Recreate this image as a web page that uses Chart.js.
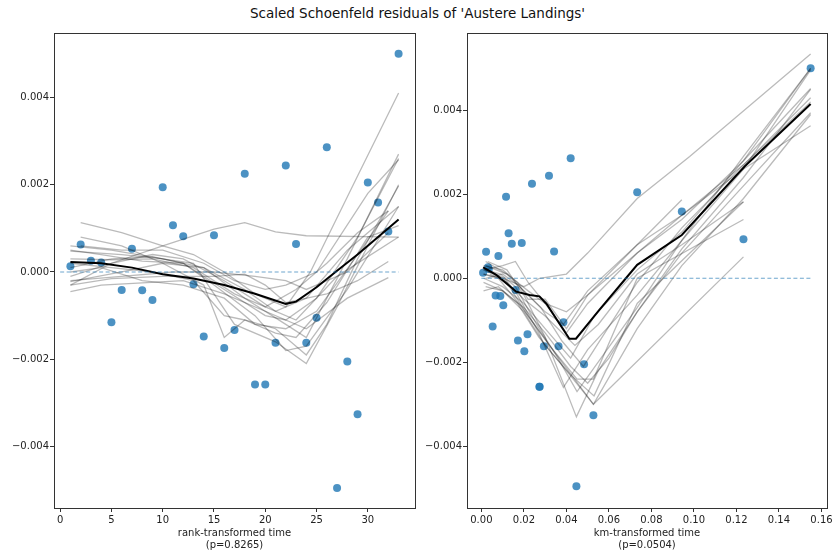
<!DOCTYPE html>
<html>
<head>
<meta charset="utf-8">
<script src="https://cdn.jsdelivr.net/npm/chart.js@4.4.0/dist/chart.umd.min.js"></script>
<style>
  body { margin: 0; background: #fff; }
  #wrap { position: relative; width: 835px; height: 552px; }
  #title { position: absolute; left: 0; top: 5px; width: 835px; text-align: center;
           font: 13.5px "DejaVu Sans", sans-serif; color: #111; }
  canvas { position: absolute; top: 0; }
</style>
</head>
<body>
<div id="wrap">
  <div id="title">Scaled Schoenfeld residuals of 'Austere Landings'</div>
  <canvas id="rankChart" width="420" height="552" style="left:0"></canvas>
  <canvas id="kmChart" width="415" height="552" style="left:420px"></canvas>
</div>
<script>
// scaled residuals, one per event, ordered by event time
const residuals = [
  0.00013, 0.00063, 0.00026, 0.00022, -0.00115, -0.00041, 0.00053, -0.00042, -0.00064, 0.00194,
  0.00107, 0.00082, -0.00028, -0.00148, 0.00084, -0.00174, -0.00133, 0.00225, -0.00258, -0.00258,
  -0.00162, 0.00244, 0.00064, -0.00162, -0.00105, 0.00286, -0.00495, -0.00205, -0.00326, 0.00205,
  0.00159, 0.00093, 0.0050
];
const rankTime = [
  1, 2, 3, 4, 5, 6, 7, 8, 9, 10, 11, 12, 13, 14, 15, 16, 17, 18, 19, 20,
  21, 22, 23, 24, 25, 26, 27, 28, 29, 30, 31, 32, 33
];
const kmTime = [
  0.0008, 0.0022, 0.0031, 0.0035, 0.0053, 0.0067, 0.0080, 0.0089, 0.0103, 0.0116,
  0.0128, 0.0143, 0.0161, 0.0172, 0.0190, 0.0202, 0.0217, 0.0238, 0.0273, 0.0274,
  0.0294, 0.0318, 0.0342, 0.0363, 0.0386, 0.0420, 0.0447, 0.0483, 0.0527, 0.0733,
  0.0943, 0.1233, 0.1549
];

// lowess fit of the full sample
const rankLowess = [
  [1, 0.00023], [4, 0.0002], [7, 0.0001], [10, -0.00005], [13, -0.00015], [16, -0.0003],
  [19, -0.0005], [22, -0.00073], [23, -0.00068], [25, -0.00035], [27, 0.00003],
  [29, 0.0004], [31, 0.0008], [33, 0.0012]
];
const kmLowess = [
  [0.0008, 0.00026], [0.007, 0.00008], [0.0164, -0.00032], [0.0227, -0.0004], [0.0273, -0.00043],
  [0.0305, -0.0006], [0.0414, -0.00144], [0.0445, -0.00144], [0.0555, -0.00075], [0.068, 0.0],
  [0.0733, 0.00032], [0.0943, 0.00103], [0.1238, 0.00266], [0.1549, 0.00415]
];

// lowess fits of bootstrap resamples
const rankBootLines = [
  [[1, -0.0003], [5, 0.0002], [10, 0.0006], [15, 0.00098], [18, 0.00113], [21, 0.00092], [24, 0.00083], [33, 0.0008]],
  [[2, 0.00113], [6, 0.0009], [10, 0.0006], [13, 0.0004], [16, 0.0], [19, -0.0005], [22, -0.0008], [24.4, 0.0], [29, 0.0022], [33, 0.0041]],
  [[1, 0.0006], [5, 0.0005], [10, 0.0003], [14, 0.0001], [18, -0.0006], [22, -0.0012], [24, -0.0015], [28, 0.0003], [33, 0.0027]],
  [[1, 0.0005], [4, 0.0004], [8, 0.00025], [12, 0.0002], [16, -0.0004], [20, -0.001], [22, -0.0011], [25, -0.0006], [29, 0.0008], [33, 0.0026]],
  [[1, 0.00048], [6, 0.0004], [10, 0.0003], [13, 0.0002], [15, -0.0005], [17, -0.0012], [21, -0.0016], [24, -0.0021], [27, -0.0008], [33, 0.002]],
  [[1, -0.0001], [5, 0.0002], [9, 0.0004], [12, 0.0003], [16, -0.0002], [20, -0.0008], [23, -0.0004], [26, 0.0002], [29, 0.0009], [32, 0.0014]],
  [[1, -0.00022], [6, 0.0], [10, 0.0002], [14, 0.0001], [18, -0.0004], [21, -0.0009], [24, -0.0006], [28, 0.0005], [33, 0.0015]],
  [[1, -0.0003], [5, -0.00015], [10, -0.0001], [15, -0.0001], [18, -0.00005], [20, -0.0003], [22, -0.0007], [26, -0.0005], [29, -0.0002], [32, 0.00024]],
  [[1, -0.00045], [4, -0.0003], [8, -0.00025], [12, -0.0002], [16, -0.0005], [20, -0.0009], [24, -0.0013], [28, -0.0006], [32, -0.00013]],
  [[1, 0.0002], [5, 0.0001], [9, 0.0], [13, -0.0002], [16, -0.001], [18, -0.0011], [21, -0.0013], [24, -0.0019], [26, -0.0012], [29, 0.0003], [33, 0.00197]],
  [[2, 0.0008], [6, 0.0006], [10, 0.0002], [14, -0.0003], [16, -0.0015], [18, -0.0011], [21, -0.0014], [23, -0.0015], [26, -0.0007], [30, 0.0008], [33, 0.00106]],
  [[1, 0.0003], [5, 0.00028], [9, 0.0003], [13, 0.0001], [17, -0.0005], [20, -0.0008], [23, -0.0011], [27, -0.0001], [33, 0.0008]],
  [[1, 0.0], [4, 0.0001], [8, -0.0002], [12, -0.0003], [16, -0.0006], [19, -0.0012], [22, -0.0013], [25, -0.0009], [29, 0.0004], [32, 0.0014]],
  [[2, 0.0006], [6, 0.0005], [10, 0.0005], [14, 0.0002], [17, -0.0002], [20, -0.0004], [22, -0.0003], [25, 0.0], [30, 0.0018], [33, 0.00257]],
  [[1, 0.0001], [5, 0.0003], [9, 0.00035], [12, 0.0002], [15, -0.0003], [19, -0.001], [22, -0.0018], [24, -0.0017], [28, -0.0004], [33, 0.0015]],
  [[1, -0.0002], [6, -0.0001], [11, 0.0], [15, 0.0], [19, -0.0001], [22, -0.0002], [24, -0.0004], [28, 0.0], [32, 0.0009]]
];
const kmBootLines = [
  [[0.001, 0.0002], [0.01, 0.0], [0.02, -0.0002], [0.0274, 0.0], [0.04, 0.0001], [0.05, 0.0006], [0.0733, 0.0019], [0.098, 0.0029], [0.1549, 0.00534]],
  [[0.001, 0.0003], [0.01, 0.0002], [0.017, -0.0001], [0.022, -0.0005], [0.03, -0.0005], [0.04, -0.0012], [0.05, -0.0004], [0.0733, 0.0008], [0.0943, 0.00187]],
  [[0.002, 0.0004], [0.012, 0.0001], [0.02, -0.0003], [0.03, -0.0008], [0.0386, -0.0011], [0.05, -0.0003], [0.0733, 0.0008], [0.0943, 0.0015], [0.1233, 0.0027], [0.1549, 0.0042]],
  [[0.001, 0.0], [0.01, -0.0002], [0.02, -0.0006], [0.03, -0.0012], [0.042, -0.0019], [0.053, -0.0009], [0.0733, 0.0002], [0.0943, 0.0011], [0.1233, 0.0028], [0.1549, 0.005]],
  [[0.002, 0.0002], [0.011, 0.0], [0.017, -0.0004], [0.027, -0.0013], [0.0386, -0.0026], [0.05, -0.0017], [0.0733, -0.0004], [0.0943, 0.0009], [0.1233, 0.0026], [0.1549, 0.00496]],
  [[0.003, 0.0004], [0.012, 0.0002], [0.02, -0.0004], [0.03, -0.0014], [0.0447, -0.0033], [0.055, -0.0022], [0.0733, -0.0008], [0.0943, 0.0007], [0.1233, 0.0024], [0.1549, 0.0045]],
  [[0.001, 0.0001], [0.008, 0.0], [0.016, -0.0005], [0.025, -0.0011], [0.035, -0.0018], [0.0527, -0.003], [0.0733, -0.0012], [0.0943, 0.0003], [0.1233, 0.0019], [0.1549, 0.0039]],
  [[0.002, -0.0002], [0.01, -0.0003], [0.02, -0.0008], [0.03, -0.0016], [0.042, -0.0023], [0.053, -0.0028], [0.0733, -0.0006], [0.1233, 0.00182]],
  [[0.004, 0.0001], [0.012, -0.0001], [0.022, -0.0009], [0.032, -0.0016], [0.045, -0.0024], [0.0527, -0.0024], [0.0733, 0.0], [0.1233, 0.0014]],
  [[0.001, -0.0003], [0.008, -0.0002], [0.017, -0.0006], [0.027, -0.0014], [0.04, -0.0022], [0.0527, -0.003], [0.1233, 0.00051]],
  [[0.001, 0.0002], [0.01, 0.0003], [0.016, 0.0004], [0.022, -0.0001], [0.03, -0.0006], [0.04, -0.0013], [0.05, -0.0006], [0.0733, 0.0006], [0.0943, 0.0014], [0.1233, 0.0028], [0.1549, 0.00452]],
  [[0.002, 0.0], [0.01, 0.0001], [0.018, -0.0002], [0.028, -0.0007], [0.038, -0.0015], [0.048, -0.0021], [0.0733, -0.0001], [0.0943, 0.0012], [0.1233, 0.0027], [0.1549, 0.0043]],
  [[0.001, 0.0001], [0.01, 0.0], [0.02, -0.0005], [0.03, -0.0009], [0.044, -0.0016], [0.055, -0.0011], [0.0733, 0.0001], [0.0943, 0.0008], [0.1233, 0.00182]],
  [[0.002, 0.0003], [0.012, 0.0001], [0.022, -0.0003], [0.03, -0.0006], [0.04, -0.0008], [0.05, -0.0004], [0.0733, 0.0006], [0.0943, 0.0015], [0.1233, 0.0026], [0.1549, 0.00363]],
  [[0.001, -0.0001], [0.01, -0.0003], [0.02, -0.0007], [0.03, -0.0013], [0.042, -0.0021], [0.05, -0.0025], [0.06, -0.0019], [0.0733, -0.0008], [0.0943, 0.0006], [0.1233, 0.0022], [0.1549, 0.00394]],
  [[0.002, 0.0002], [0.009, 0.0001], [0.016, -0.0002], [0.026, -0.0011], [0.036, -0.0019], [0.045, -0.0027], [0.0733, -0.0007], [0.0943, 0.0009], [0.1233, 0.0029], [0.1549, 0.005]]
];

const rankTicksX = [0, 5, 10, 15, 20, 25, 30];
const kmTicksX = [0, 0.02, 0.04, 0.06, 0.08, 0.10, 0.12, 0.14, 0.16];
const ticksY = [-0.004, -0.002, 0, 0.002, 0.004];

const toXY = pts => pts.map(p => ({ x: p[0], y: p[1] }));
const minus = s => s.replace('-', '\u2212');

// box around the plotting area, like the matplotlib spines
const frame = {
  id: 'frame',
  afterDraw(chart) {
    const { ctx, chartArea: a } = chart;
    ctx.save();
    ctx.strokeStyle = '#333';
    ctx.lineWidth = 1;
    ctx.strokeRect(Math.round(a.left) + 0.5, Math.round(a.top) + 0.5,
                   Math.round(a.right - a.left), Math.round(a.bottom - a.top));
    ctx.restore();
  }
};

function makePanel(canvasId, xs, boot, lowess, xTicks, xDigits, xRange, yRange, title, yWidth, padRight) {
  const datasets = [
    {
      // zero reference
      data: [{ x: 0, y: 0 }, { x: xs[xs.length - 1], y: 0 }],
      showLine: true, pointRadius: 0,
      borderColor: 'rgba(31,119,180,0.65)', borderWidth: 1.2, borderDash: [4, 2.5]
    },
    {
      data: toXY(lowess),
      showLine: true, pointRadius: 0,
      borderColor: '#000', borderWidth: 2
    },
    ...boot.map(line => ({
      data: toXY(line),
      showLine: true, pointRadius: 0,
      borderColor: 'rgba(0,0,0,0.27)', borderWidth: 1.3
    })),
    {
      data: xs.map((x, i) => ({ x: x, y: residuals[i] })),
      pointRadius: 4, pointBorderWidth: 0,
      backgroundColor: 'rgba(31,119,180,0.8)'
    }
  ];

  new Chart(document.getElementById(canvasId), {
    type: 'scatter',
    data: { datasets },
    plugins: [frame],
    options: {
      responsive: false,
      animation: false,
      layout: { padding: { top: 33, right: padRight, left: 0, bottom: 0 } },
      plugins: { legend: { display: false }, tooltip: { enabled: false } },
      scales: {
        x: {
          type: 'linear', min: xRange[0], max: xRange[1],
          afterBuildTicks: s => { s.ticks = xTicks.map(v => ({ value: v })); },
          afterFit: s => { s.height = 44; },
          border: { display: false },
          grid: { drawOnChartArea: false, drawTicks: true, tickLength: 4, tickColor: '#333' },
          ticks: {
            color: '#222', padding: 2, maxRotation: 0,
            font: { family: 'DejaVu Sans', size: 10 },
            callback: v => v.toFixed(xDigits)
          },
          title: {
            display: true, text: title, color: '#222',
            font: { family: 'DejaVu Sans', size: 10, lineHeight: 1.2 },
            padding: { top: 0, bottom: 1 }
          }
        },
        y: {
          type: 'linear', min: yRange[0], max: yRange[1],
          afterBuildTicks: s => { s.ticks = ticksY.map(v => ({ value: v })); },
          afterFit: s => { s.width = yWidth; },
          border: { display: false },
          grid: { drawOnChartArea: false, drawTicks: true, tickLength: 4, tickColor: '#333' },
          ticks: {
            color: '#222', padding: 1,
            font: { family: 'DejaVu Sans', size: 10 },
            callback: v => minus(v.toFixed(3))
          }
        }
      }
    }
  });
}

makePanel('rankChart', rankTime, rankBootLines, rankLowess, rankTicksX, 0,
  [-0.6, 34.6], [-0.005407, 0.005475], ['rank-transformed time', '(p=0.8265)'], 54, 5);
makePanel('kmChart', kmTime, kmBootLines, kmLowess, kmTicksX, 2,
  [-0.00677, 0.1626], [-0.00547, 0.00584], ['km-transformed time', '(p=0.0504)'], 47, 8);
</script>
</body>
</html>
